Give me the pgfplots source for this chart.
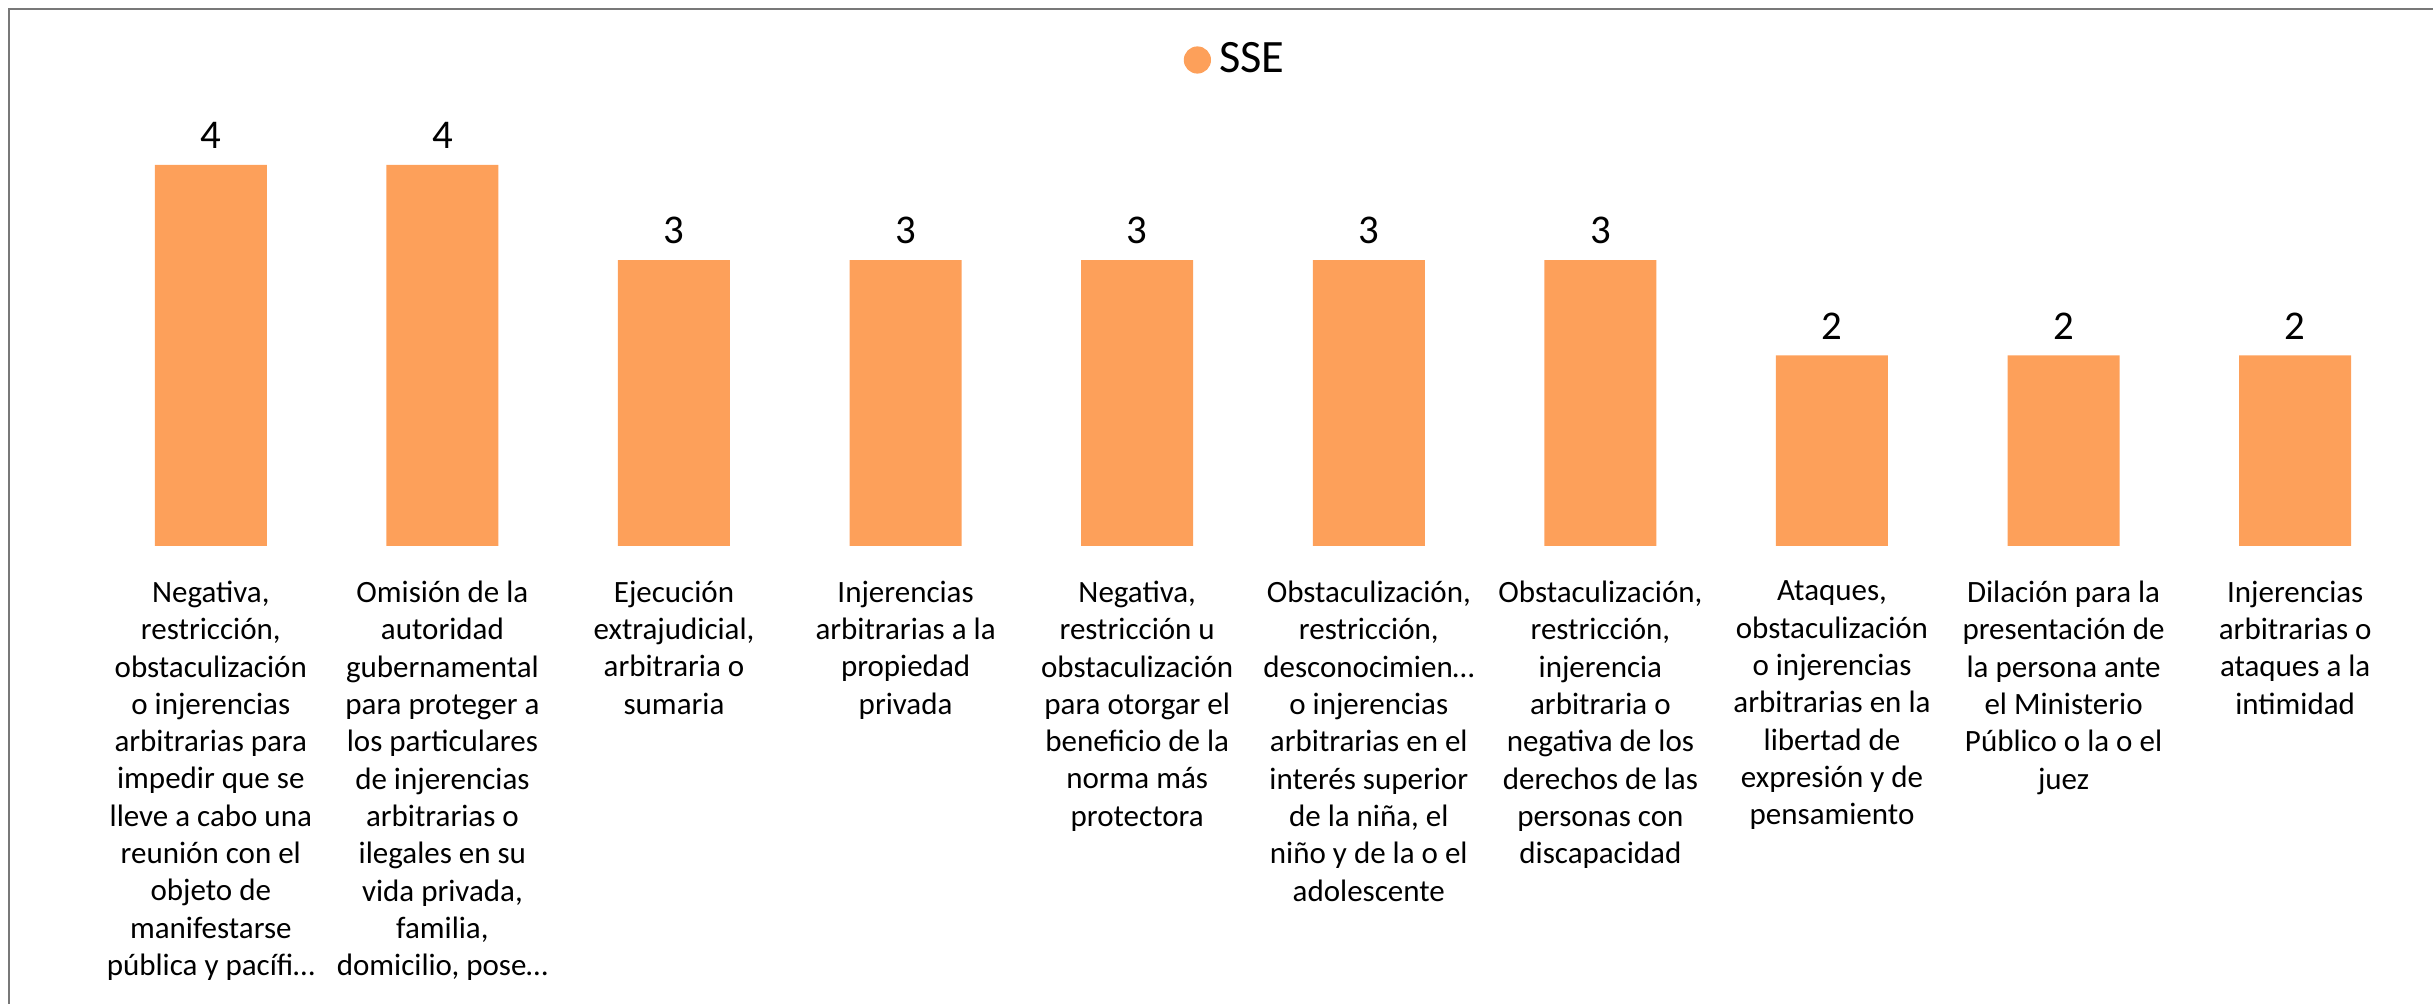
\documentclass[border=0pt]{standalone}
\usepackage{fontspec}
\setmainfont{Carlito}
\usepackage{pgfplots}
\pgfplotsset{compat=1.18}
\definecolor{barc}{RGB}{253,160,90}
\definecolor{framec}{RGB}{120,120,120}
\begin{document}
\begin{tikzpicture}
\path[use as bounding box] (-23.75pt,-114.5pt) rectangle (584.5pt,136.5pt);
\begin{axis}[
  at={(0,0)}, anchor=south west,
  scale only axis,
  width=579pt, height=95.25pt,
  xmin=-0.5, xmax=9.5, ymin=0, ymax=4,
  ybar, bar width=28pt, bar shift=0pt,
  axis line style={draw=none},
  ytick=\empty,
  xtick={0,...,9},
  major tick length=0pt,
  clip=false,
  /pgf/number format/assume math mode=true,
  xticklabel style={align=center, anchor=north, yshift=-5.2pt,
    font=\fontsize{7.75}{9.33}\selectfont},
  xticklabels={
    {Negativa,\\restricción,\\obstaculización\\o injerencias\\arbitrarias para\\impedir que se\\lleve a cabo una\\reunión con el\\objeto de\\manifestarse\\pública y pacífi…},
    {Omisión de la\\autoridad\\gubernamental\\para proteger a\\los particulares\\de injerencias\\arbitrarias o\\ilegales en su\\vida privada,\\familia,\\domicilio, pose…},
    {Ejecución\\extrajudicial,\\arbitraria o\\sumaria},
    {Injerencias\\arbitrarias a la\\propiedad\\privada},
    {Negativa,\\restricción u\\obstaculización\\para otorgar el\\beneficio de la\\norma más\\protectora},
    {Obstaculización,\\restricción,\\desconocimien…\\o injerencias\\arbitrarias en el\\interés superior\\de la niña, el\\niño y de la o el\\adolescente},
    {Obstaculización,\\restricción,\\injerencia\\arbitraria o\\negativa de los\\derechos de las\\personas con\\discapacidad},
    {Ataques,\\obstaculización\\o injerencias\\arbitrarias en la\\libertad de\\expresión y de\\pensamiento},
    {Dilación para la\\presentación de\\la persona ante\\el Ministerio\\Público o la o el\\juez},
    {Injerencias\\arbitrarias o\\ataques a la\\intimidad}
  },
  nodes near coords,
  every node near coord/.append style={font=\fontsize{10.2}{12}\selectfont, text=black, inner sep=0pt, yshift=3.8pt},
  legend style={at={(272pt,121.5pt)}, anchor=west, draw=none, fill=none, font=\fontsize{11.6}{13}\selectfont, inner sep=0pt},
  legend image code/.code={\fill[barc] (0.2cm,0pt) circle (3.4pt);},
  legend cell align=left,
]
\addplot[fill=barc, draw=none] coordinates {(0,4) (1,4) (2,3) (3,3) (4,3) (5,3) (6,3) (7,2) (8,2) (9,2)};
\legend{SSE}
\end{axis}
\draw[framec, line width=0.6pt] (-21.5pt,-114.5pt) -- (-21.5pt,134.25pt) -- (584.5pt,134.25pt);
\end{tikzpicture}
\end{document}
